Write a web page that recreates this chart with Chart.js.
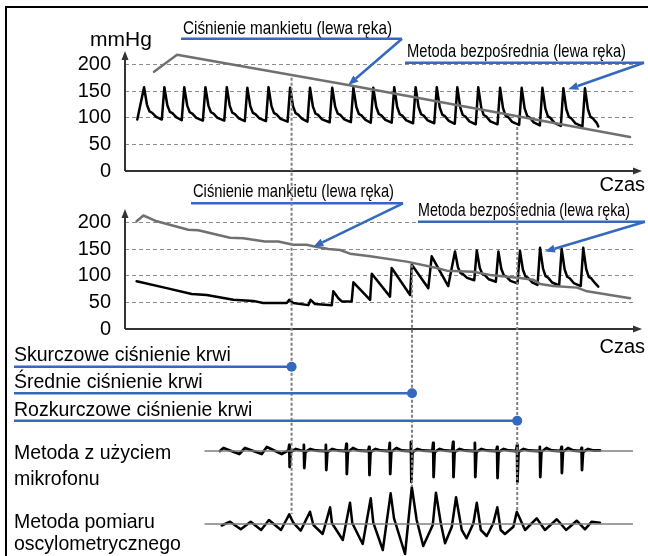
<!DOCTYPE html>
<html>
<head>
<meta charset="utf-8">
<script src="https://cdn.jsdelivr.net/npm/chart.js@4.4.0/dist/chart.umd.min.js"></script>
<style>
  body { margin: 0; background: #fff; }
  #wrap { position: relative; width: 648px; height: 556px; overflow: hidden; background: #fff; }
  #wrap canvas { position: absolute; left: 0; top: 0; }
  .frame { position: absolute; left: 5px; top: 6px; width: 700px; height: 700px; border: 2px solid #000; }
</style>
</head>
<body>
<div id="wrap">
  <div class="frame"></div>
  <canvas id="cuffChart" width="648" height="556"></canvas>
  <canvas id="wristChart" width="648" height="556"></canvas>
  <canvas id="micChart" width="648" height="556"></canvas>
  <canvas id="oscChart" width="648" height="556"></canvas>
</div>
<script>
// ---- data (time in s, pressure in mmHg) ----
const pressureTicks = [0, 50, 100, 150, 200];

// top chart: cuff pressure
const cuffTopT = [1.37, 2.46, 10.54, 23.86];
const cuffTopV = [187, 219, 162, 64];

// top chart: direct method, one value per beat
const directTopStartT = 0.58;
const directTopEndT = 22.36;
const directTopPeakT = [0.90, 1.86, 2.80, 3.80, 4.81, 5.78, 6.78, 7.80, 8.74, 9.79, 10.79, 11.73, 12.72, 13.73, 14.73, 15.70, 16.69, 17.72, 18.74, 19.72, 20.71, 21.73];
const directTopPeakV = [158, 158, 158, 158, 158, 157, 158, 157, 157, 157, 157, 157, 158, 158, 158, 158, 158, 157, 157, 157, 156, 156];
const directTopTroughV = [97, 97, 96, 95, 95, 94, 94, 93, 93, 92, 92, 91, 91, 90, 90, 89, 88, 88, 87, 86, 85, 84, 84];

// middle chart: cuff pressure
const cuffMidT = [0.55, 0.87, 1.50, 2.99, 3.46, 4.96, 5.59, 6.61, 7.24, 7.95, 8.58, 8.90, 9.61, 10.16, 10.63, 11.58, 13.31, 14.73, 15.20, 16.44, 17.24, 18.66, 19.28, 19.61, 20.22, 21.35, 21.83, 23.86];
const cuffMidV = [203, 214, 203, 187, 186, 172, 171, 165, 165, 159, 159, 156, 151, 149, 142, 137, 127, 115, 110, 108, 102, 96, 93, 85, 81, 78, 71, 58];

// middle chart: direct method (occluded part, then full beats)
const directMidT = [0.55, 1.97, 3.15, 3.86, 5.12, 6.06, 6.53, 7.64, 7.76, 7.95, 8.66, 8.77, 8.98, 9.77, 9.84, 10.08, 10.24, 10.71, 10.79, 11.58, 11.66, 12.52, 12.60, 13.47, 13.55, 14.33, 14.49];
const directMidV = [90, 77, 66, 64, 55, 53, 49, 49, 55, 49, 45, 55, 47, 45, 71, 58, 52, 52, 88, 55, 104, 61, 115, 64, 121, 77, 137];
const directMidStartT = 15.27;
const directMidEndT = 22.36;
const directMidPeakT = [15.59, 16.62, 17.64, 18.66, 19.61, 20.63, 21.65];
const directMidPeakV = [146, 148, 146, 147, 153, 151, 153];
const directMidTroughV = [81, 92, 89, 86, 83, 82, 81, 80];

// one beat after its peak: [time after peak, share of peak-to-trough height]
const beatShape = [[0.14, 0.45], [0.26, 0.25], [0.38, 0.21], [0.57, 0.08]];
const beatRise = 0.12;

// microphone signal (arbitrary units)
const micLeadT = [4.49, 4.65, 5.40, 5.67, 6.46, 6.70, 7.40, 7.66];
const micLeadV = [0, 3, -3, 3, -3, 4, -3, 0];
const micSpikeT = [7.77, 8.46, 9.50, 10.47, 11.54, 12.52, 13.52, 14.57, 15.51, 16.54, 17.59, 18.53, 19.61, 20.63, 21.58];
const micSpikeTop = [6, 6, 6, 7, 4, 8, 9, 8, 9, 8, 4, 6, 4, 4, 3];
const micSpikeLow = [-16, -17, -19, -23, -24, -23, -31, -26, -26, -26, -27, -31, -26, -22, -19];
const micBumpV = [2, 2, 2, 3, 2, 3, 2, 2, 2, 2, 2, 2, 3, 3, 2];
const micEndT = 22.44;

// oscillometric signal (arbitrary units)
const oscT = [4.57, 4.96, 5.47, 5.94, 6.43, 6.80, 7.37, 7.76, 7.95, 8.30, 8.74, 8.90, 9.34, 9.69, 9.78, 10.29, 10.63, 10.74, 11.23, 11.61, 11.73, 12.18, 12.55, 12.71, 13.23, 13.55, 13.78, 14.09, 14.54, 14.69, 14.92, 15.12, 15.44, 15.64, 15.91, 16.14, 16.46, 16.62, 16.81, 17.09, 17.40, 17.59, 17.75, 17.95, 18.35, 18.51, 18.90, 19.45, 19.84, 20.40, 20.84, 21.34, 21.73, 22.05, 22.44];
const oscV = [-1.5, 2.3, -5.3, 2.3, -6, 4, -6, 9.7, 1.3, -6.7, 12.3, -1, -10, 16.7, 0.7, -16, 21.3, 0.7, -20, 25.7, 1.3, -26, 30.7, 5.7, -30, 37, 4, -22, -1, 31.3, 0.7, -19.3, -2.7, 26.7, -6, -14.3, 0.7, 21.3, -6, -12, 0.7, 16.7, -6, -10, -2.7, 12.3, -6, 5.7, -6, 4.7, -6, 3.3, -5.3, 2.3, 1.3];
const signalBaseT = [3.78, 24];

// systolic, mean, diastolic markers
const markerNames = ['Skurczowe ciśnienie krwi', 'Średnie ciśnienie krwi', 'Rozkurczowe ciśnienie krwi'];
const markerT = [7.87, 13.56, 18.53];
const markerFromChart = [0, 1, 0];
const markerFromV = [176, 121, 83];
const markerToV = [10, 37, 12];

// ---- helpers ----
const FONT = "'Liberation Sans', Arial, sans-serif";
const NARROW = "'Liberation Sans Narrow', 'Liberation Sans', Arial, sans-serif";
const BLUE = '#3469bd';
const GRAY = '#707070';

function toPoints(ts, vs) {
    return ts.map((t, i) => ({ x: t, y: vs[i] }));
}

function pulseTrace(startT, endT, peakT, peakV, troughV) {
    const pts = [{ x: startT, y: troughV[0] }];
    peakT.forEach((t, i) => {
        if (i > 0) pts.push({ x: t - beatRise, y: troughV[i] });
        pts.push({ x: t, y: peakV[i] });
        const base = troughV[i + 1];
        const h = peakV[i] - base;
        beatShape.forEach(([dt, f]) => pts.push({ x: t + dt, y: base + f * h }));
    });
    pts.push({ x: endT, y: troughV[troughV.length - 1] });
    return pts;
}

function micTrace() {
    const pts = toPoints(micLeadT, micLeadV);
    micSpikeT.forEach((t, i) => {
        pts.push({ x: t - 0.05, y: 0 });
        pts.push({ x: t - 0.01, y: micSpikeTop[i] });
        pts.push({ x: t + 0.01, y: micSpikeLow[i] });
        pts.push({ x: t + 0.06, y: -1 });
        pts.push({ x: t + 0.3, y: micBumpV[i] });
        pts.push({ x: t + 0.55, y: 0.5 });
    });
    pts.push({ x: micEndT, y: 0.5 });
    return pts;
}

function arrowLine(ctx, x1, y1, x2, y2, len, half) {
    const a = Math.atan2(y2 - y1, x2 - x1);
    const bx = x2 - len * Math.cos(a), by = y2 - len * Math.sin(a);
    ctx.beginPath();
    ctx.moveTo(x1, y1);
    ctx.lineTo(bx, by);
    ctx.stroke();
    ctx.beginPath();
    ctx.moveTo(x2, y2);
    ctx.lineTo(bx - half * Math.sin(a), by + half * Math.cos(a));
    ctx.lineTo(bx + half * Math.sin(a), by - half * Math.cos(a));
    ctx.closePath();
    ctx.fill();
}

// axes with arrow heads, unit and "Czas" label, blue callouts
const pressureNotes = {
    id: 'pressureNotes',
    afterDraw(chart, args, opts) {
        const { ctx, chartArea: area, scales: { x, y } } = chart;
        const y0 = y.getPixelForValue(0);
        ctx.save();
        ctx.strokeStyle = '#333';
        ctx.fillStyle = '#333';
        ctx.lineWidth = 2;
        arrowLine(ctx, area.left, y0, area.left, area.top + 2, 9, 3.5);
        arrowLine(ctx, area.left, y0, opts.xTip, y0, 9, 3.5);

        ctx.fillStyle = '#000';
        ctx.font = '20px ' + FONT;
        ctx.textAlign = 'right';
        ctx.fillText('Czas', 645, opts.czasY);
        if (opts.unit) {
            ctx.textAlign = 'left';
            ctx.font = '21px ' + FONT;
            ctx.fillText(opts.unit, 90, 46);
        }

        ctx.textAlign = 'left';
        opts.callouts.forEach(c => {
            ctx.font = '19px ' + NARROW;
            ctx.fillStyle = '#000';
            ctx.fillText(c.text, c.x, c.y, c.width);
            ctx.strokeStyle = BLUE;
            ctx.fillStyle = BLUE;
            ctx.lineWidth = 2.5;
            ctx.beginPath();
            ctx.moveTo(c.x1, c.lineY);
            ctx.lineTo(c.x2, c.lineY);
            ctx.stroke();
            arrowLine(ctx, c.x2, c.lineY, x.getPixelForValue(c.tip[0]), y.getPixelForValue(c.tip[1]), 10, 4);
        });
        ctx.restore();
    }
};

// dotted guides, blue marker rows, method labels
const figureNotes = {
    id: 'figureNotes',
    afterDraw(chart, args, opts) {
        const ctx = chart.ctx;
        const x = chart.scales.x;
        ctx.save();
        ctx.strokeStyle = '#808080';
        ctx.lineWidth = 2;
        ctx.setLineDash([3, 2]);
        markerT.forEach((t, i) => {
            const px = x.getPixelForValue(t);
            const top = pressureCharts[markerFromChart[i]].scales.y.getPixelForValue(markerFromV[i]);
            const bottom = chart.scales.y.getPixelForValue(markerToV[i]);
            ctx.beginPath();
            ctx.moveTo(px, top);
            ctx.lineTo(px, bottom);
            ctx.stroke();
        });
        ctx.setLineDash([]);

        ctx.font = '19.5px ' + FONT;
        markerNames.forEach((name, i) => {
            const px = x.getPixelForValue(markerT[i]);
            const row = opts.rows[i];
            ctx.fillStyle = '#000';
            ctx.fillText(name, opts.left, row.text);
            ctx.strokeStyle = BLUE;
            ctx.fillStyle = BLUE;
            ctx.lineWidth = 2.5;
            ctx.beginPath();
            ctx.moveTo(opts.left, row.line);
            ctx.lineTo(px, row.line);
            ctx.stroke();
            ctx.beginPath();
            ctx.arc(px, row.line, 5, 0, Math.PI * 2);
            ctx.fill();
        });

        ctx.fillStyle = '#000';
        opts.methods.forEach(m => m.lines.forEach((s, j) => ctx.fillText(s, opts.left, m.y[j])));
        ctx.restore();
    }
};

function pressureAxis() {
    return {
        min: 0,
        max: 230,
        afterBuildTicks: s => { s.ticks = pressureTicks.map(v => ({ value: v })); },
        afterFit: s => { s.width = 125; },
        ticks: { color: '#000', font: { family: FONT, size: 20 }, padding: 14 },
        grid: { drawTicks: false, lineWidth: 1, color: c => (c.tick && c.tick.value === 0) ? 'rgba(0,0,0,0)' : '#8c8c8c' },
        border: { display: false, dash: [4, 3] }
    };
}

function makeChart(id, datasets, yScale, padding, plugins, pluginOpts) {
    return new Chart(document.getElementById(id), {
        type: 'line',
        data: { datasets },
        options: {
            responsive: false,
            animation: false,
            devicePixelRatio: 1,
            events: [],
            layout: { padding },
            elements: {
                point: { radius: 0 },
                line: { tension: 0, fill: false, borderJoinStyle: 'round', borderCapStyle: 'round' }
            },
            scales: {
                x: { type: 'linear', min: 0, max: 24, display: false },
                y: yScale
            },
            plugins: Object.assign({ legend: { display: false }, tooltip: { enabled: false } }, pluginOpts)
        },
        plugins
    });
}

const cuffChart = makeChart('cuffChart', [
    { data: toPoints(cuffTopT, cuffTopV), borderColor: GRAY, borderWidth: 2.5 },
    { data: pulseTrace(directTopStartT, directTopEndT, directTopPeakT, directTopPeakV, directTopTroughV), borderColor: '#000', borderWidth: 2.5 }
], pressureAxis(), { left: 0, right: 15, top: 49, bottom: 385 }, [pressureNotes], {
    pressureNotes: {
        xTip: 642, czasY: 191, unit: 'mmHg',
        callouts: [
            { text: 'Ciśnienie mankietu (lewa ręka)', x: 183, y: 33.5, width: 209, x1: 181, x2: 402, lineY: 38.7, tip: [10.55, 162] },
            { text: 'Metoda bezpośrednia (lewa ręka)', x: 407, y: 56.5, width: 219, x1: 405, x2: 644, lineY: 62.7, tip: [20.94, 154] }
        ]
    }
});

const wristChart = makeChart('wristChart', [
    { data: toPoints(cuffMidT, cuffMidV), borderColor: GRAY, borderWidth: 2.5 },
    { data: toPoints(directMidT, directMidV).concat(pulseTrace(directMidStartT, directMidEndT, directMidPeakT, directMidPeakV, directMidTroughV)), borderColor: '#000', borderWidth: 2.5 }
], pressureAxis(), { left: 0, right: 15, top: 207, bottom: 227 }, [pressureNotes], {
    pressureNotes: {
        xTip: 642, czasY: 353,
        callouts: [
            { text: 'Ciśnienie mankietu (lewa ręka)', x: 193, y: 196.7, width: 201, x1: 191, x2: 403, lineY: 203.3, tip: [8.90, 155] },
            { text: 'Metoda bezpośrednia (lewa ręka)', x: 418, y: 216, width: 212, x1: 418, x2: 645, lineY: 221.7, tip: [19.84, 146] }
        ]
    }
});

const pressureCharts = [cuffChart, wristChart];

const micChart = makeChart('micChart', [
    { data: toPoints(signalBaseT, [0, 0]), borderColor: '#808080', borderWidth: 1.5 },
    { data: micTrace(), borderColor: '#000', borderWidth: 2.8 }
], { min: -39, max: 21, display: false }, { left: 125, right: 15, top: 430, bottom: 66 }, [], {});

const oscChart = makeChart('oscChart', [
    { data: toPoints(signalBaseT, [0, 0]), borderColor: '#808080', borderWidth: 1.5 },
    { data: toPoints(oscT, oscV), borderColor: '#000', borderWidth: 2.5 }
], { min: -32, max: 42, display: false }, { left: 125, right: 15, top: 482, bottom: 0 }, [figureNotes], {
    figureNotes: {
        left: 14,
        rows: [{ text: 360.7, line: 366.7 }, { text: 388.3, line: 393.3 }, { text: 416, line: 420.7 }],
        methods: [
            { lines: ['Metoda z użyciem', 'mikrofonu'], y: [459.3, 485] },
            { lines: ['Metoda pomiaru', 'oscylometrycznego'], y: [528.3, 550] }
        ]
    }
});
</script>
</body>
</html>
